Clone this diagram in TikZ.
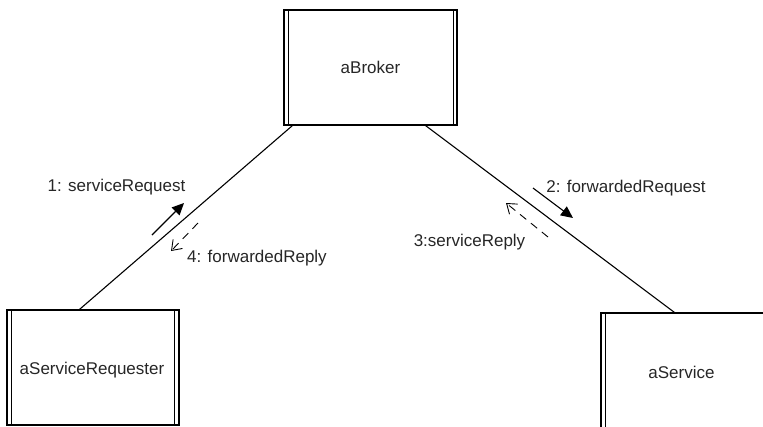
\documentclass[tikz,border=0pt]{standalone}
\usepackage{fontspec}
\setmainfont{Liberation Sans}
\usetikzlibrary{arrows.meta}
\begin{document}
\begin{tikzpicture}[x=1bp,y=-1bp,
  obj/.style={draw, line width=1.1bp, rectangle, inner sep=0pt, font=\fontsize{17bp}{20bp}\selectfont, text=black!85},
  lbl/.style={inner sep=0pt, font=\fontsize{17bp}{20bp}\selectfont, text=black!85},
  link/.style={line width=1.1bp},
  msg/.style={line width=1.1bp, -{Triangle[length=12bp,width=11bp]}},
  reply/.style={line width=0.9bp, dash pattern=on 8bp off 6bp, -{Straight Barb[length=9bp,width=13bp,line width=0.9bp]}},
  edge/.style={line width=1.1bp}]
\useasboundingbox (0,0) rectangle (763,426);
% objects
\node[obj, minimum width=173bp, minimum height=115bp] (broker) at (370.5,67.5) {aBroker};
\node[obj, minimum width=172bp, minimum height=115bp] (req) at (93,367.5) {};
\node[lbl] (reqt) at (92,370) {aServiceRequester};
\node[obj, minimum width=172bp, minimum height=118bp] (svc) at (687,372) {};
\node[lbl] (svct) at (681.5,372) {aService};
% double side lines
\draw[edge] ([xshift=5bp]broker.north west) -- ([xshift=5bp]broker.south west);
\draw[edge] ([xshift=-4bp]broker.north east) -- ([xshift=-4bp]broker.south east);
\draw[edge] ([xshift=5bp]req.north west) -- ([xshift=5bp]req.south west);
\draw[edge] ([xshift=-5bp]req.north east) -- ([xshift=-5bp]req.south east);
\draw[edge] ([xshift=5bp]svc.north west) -- ([xshift=5bp]svc.south west);
% link end points
\coordinate (bl) at ([xshift=9bp]broker.south west);
\coordinate (br) at ([xshift=-32bp]broker.south east);
\coordinate (rt) at ([xshift=73bp]req.north west);
\coordinate (st) at ([xshift=74bp]svc.north west);
\draw[link] (bl) -- (rt);
\draw[link] (br) -- (st);
% message arrows
\coordinate (m1a) at (152,235); \coordinate (m1b) at (184,203);
\coordinate (m4a) at (198,223); \coordinate (m4b) at (171,251);
\coordinate (m2a) at (533,188); \coordinate (m2b) at (573,218);
\coordinate (m3a) at (548,237); \coordinate (m3b) at (506,203);
\draw[msg] (m1a) -- (m1b);
\draw[reply] (m4a) -- (m4b);
\draw[msg] (m2a) -- (m2b);
\draw[reply] (m3a) -- (m3b);
% labels
\node[lbl] (l1) at (116.5,187) {1: serviceRequest};
\node[lbl] (l4) at (257,258) {4: forwardedReply};
\node[lbl] (l2) at (626,188) {2: forwardedRequest};
\node[lbl] (l3) at (469.5,242) {3:serviceReply};
\end{tikzpicture}
\end{document}
